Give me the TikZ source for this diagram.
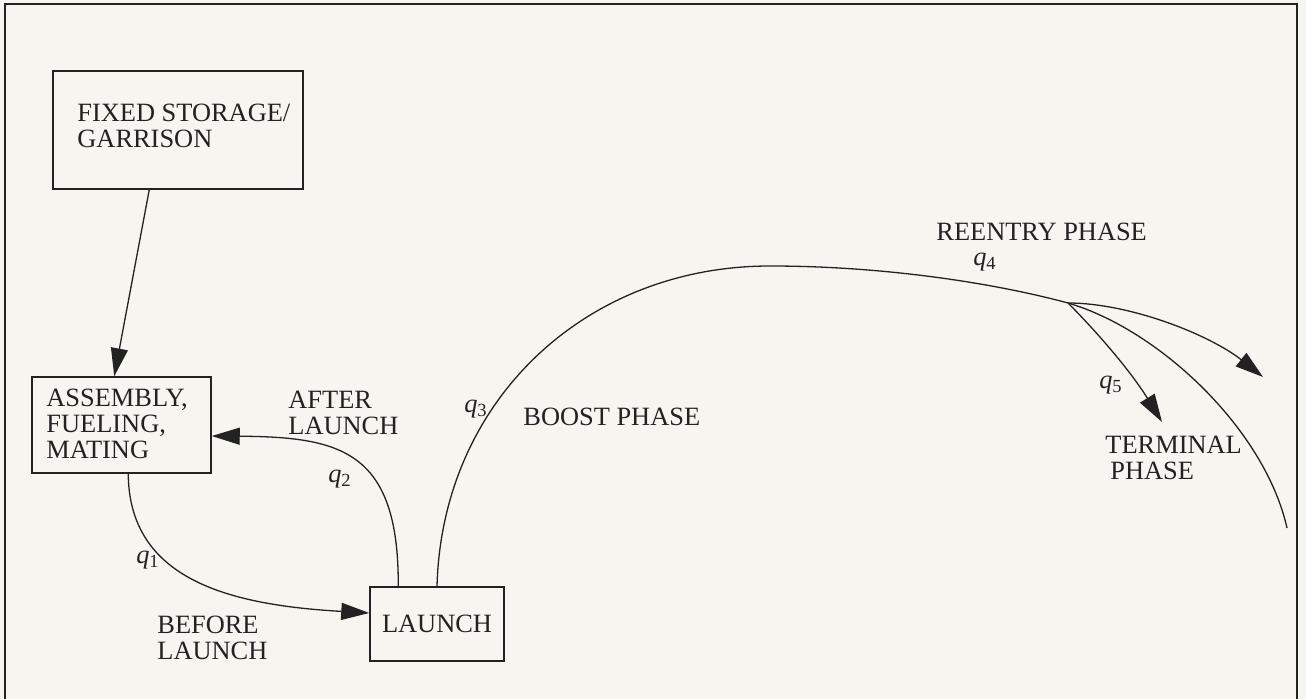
\documentclass[tikz,border=0pt]{standalone}
\usepackage{fontspec}
\setmainfont{Liberation Serif}
\usetikzlibrary{arrows.meta}
\definecolor{ink}{HTML}{222222}
\definecolor{paper}{HTML}{F6F5EF}
\newcommand{\qlab}[1]{\textit{q}\textsubscript{#1}}
\begin{document}
\begin{tikzpicture}[x=0.5pt,y=-0.5pt,
  every node/.style={font=\fontsize{13.2pt}{13pt}\selectfont, text=ink},
  box/.style={draw=ink, line width=0.75pt, inner sep=0pt},
  lbl/.style={inner sep=0pt, align=left},
  ql/.style={inner sep=0pt},
  conn/.style={draw=ink, line width=0.65pt},
  tip/.style={-{Triangle[length=14pt,width=8.5pt]}}
]
\fill[paper] (0,0) rectangle (1306,699);
\useasboundingbox (0,0) rectangle (1306,699);
\draw[ink, line width=1pt] (5,704) -- (5,4) -- (1297,4) -- (1297,704);

\node[box, minimum width=125pt, minimum height=59pt] (fixed) at (178,130) {};
\node[lbl, anchor=north west] (fixedtxt) at (77,104) {FIXED STORAGE/\\GARRISON};
\node[box, minimum width=89.5pt, minimum height=48pt] (asm) at (121.5,425) {};
\node[lbl, anchor=north west] (asmtxt) at (46,388.5) {ASSEMBLY,\\FUELING,\\MATING};
\node[box, minimum width=67pt, minimum height=37pt] (launch) at (437,624) {LAUNCH};

\draw[conn, tip] ([xshift=48.5pt]fixed.south west) -- ([xshift=41.5pt]asm.north west);
\draw[conn, tip] ([xshift=48.5pt]asm.south west) .. controls (129,580) and (230,605) .. ([yshift=5.5pt]launch.west);
\draw[conn, tip] ([xshift=14.5pt]launch.north west) .. controls (399,450) and (340,437) .. ([yshift=-5.5pt]asm.east);

\coordinate (apex) at (770,266);
\coordinate (split) at (1068,303);
\coordinate (arcend) at (1287,528);
\coordinate (tipa) at (1263,377);
\coordinate (tipb) at (1162,422);
\draw[conn] (launch.north) .. controls (442,400) and (586,266) .. (apex)
  .. controls (880,266) and (990,282) .. (split)
  .. controls (1160,330) and (1265,430) .. (arcend);
\draw[conn, tip] (split) .. controls (1130,303) and (1210,335) .. (tipa);
\draw[conn, tip] (split) .. controls (1095,330) and (1130,370) .. (tipb);

\node[ql] (q1) at (148,560) {\qlab{1}};
\node[ql] (q2) at (340,479) {\qlab{2}};
\node[ql] (q3) at (476,409) {\qlab{3}};
\node[ql] (q4) at (985,262) {\qlab{4}};
\node[ql] (q5) at (1111,385) {\qlab{5}};

\node[lbl, anchor=north west] (after) at (288,390.5) {AFTER\\LAUNCH};
\node[lbl, anchor=north west] (before) at (157,615.5) {BEFORE\\LAUNCH};
\node[lbl, anchor=north west] (terminal) at (1105,435.5) {TERMINAL\\\hspace*{2.5pt}PHASE};
\node[lbl, anchor=base west] (reentry) at (936,241) {REENTRY PHASE};
\node[lbl, anchor=base west] (boost) at (523,426) {BOOST PHASE};
\end{tikzpicture}
\end{document}
